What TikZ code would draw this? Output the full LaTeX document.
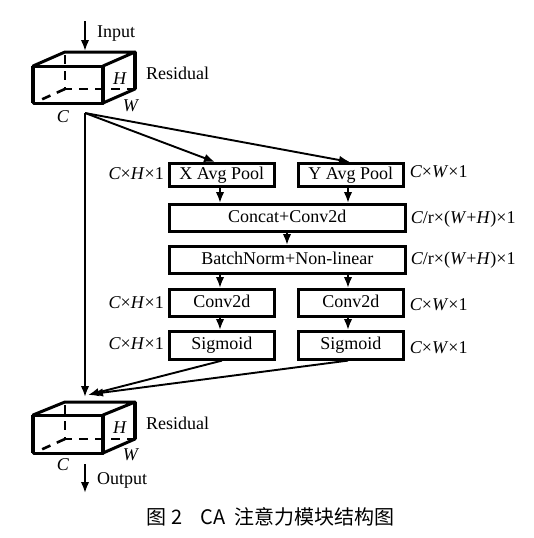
\documentclass[tikz,border=0pt]{standalone}
\usepackage{fontspec}
\setmainfont{Liberation Serif}
\newfontfamily\cjk{Noto Sans CJK SC}
\usetikzlibrary{arrows.meta}
\begin{document}
\begin{tikzpicture}[x=1pt,y=-1pt,
  every node/.style={font=\fontsize{18}{21}\selectfont, inner sep=0pt},
  blk/.style={draw, line width=2.6pt, anchor=north west, minimum height=#1, text height=12.5pt, text depth=4pt},
  edge/.style={line width=3pt, line cap=round, line join=round},
  hid/.style={line width=2.6pt, dash pattern=on 9pt off 7pt},
  arr/.style={line width=1.9pt, -{Latex[length=11pt,width=8.5pt]}},
  lab/.style={font=\fontsize{18}{21}\selectfont}]
\useasboundingbox (0,0) rectangle (533,538);
% ---- top cube
\draw[edge] (33,66) rectangle (103,103);
\draw[edge] (33,66) -- (65,52) -- (135,52) -- (103,66);
\draw[edge] (103,103) -- (135,89) -- (135,52);
\draw[line width=4pt] (33,66) -- (33,103) (103,66) -- (103,103) (135,52) -- (135,89);
\draw[hid] (65,55) -- (65,89) -- (133,89);
\draw[hid] (65,89) -- (36,102);
\node[lab] (tH) at (120,79) {\textit{H}};
\node[lab] (tW) at (131,106) {\textit{W}};
\node[lab] (tC) at (63,117) {\textit{C}};
\node[lab, anchor=west] (tRes) at (146,73) {Residual};
\coordinate (inS) at (85,21);
\coordinate (inE) at (85,51);
\draw[arr] (inS) -- (inE);
\node[lab, anchor=west] (tIn) at (97,34) {Input};
% ---- bottom cube
\draw[edge] (33,415) rectangle (103,453);
\draw[edge] (33,415) -- (65,402) -- (135,402) -- (103,415);
\draw[edge] (103,453) -- (135,439) -- (135,402);
\draw[line width=4pt] (33,415) -- (33,453) (103,415) -- (103,453) (135,402) -- (135,439);
\draw[hid] (65,405) -- (65,439) -- (133,439);
\draw[hid] (65,439) -- (36,452);
\node[lab] (bH) at (120,428) {\textit{H}};
\node[lab] (bW) at (131,455) {\textit{W}};
\node[lab] (bC) at (63,465) {\textit{C}};
\node[lab, anchor=west] (bRes) at (146,423) {Residual};
\coordinate (outS) at (85,464);
\coordinate (outE) at (85,493);
\draw[arr] (outS) -- (outE);
\node[lab, anchor=west] (tOut) at (97,480) {Output};
% ---- blocks
\node[blk=23pt, minimum width=105pt] (xp) at (168,162) {X Avg Pool};
\node[blk=23pt, minimum width=105pt] (yp) at (297,162) {Y Avg Pool};
\node[blk=27pt, minimum width=236pt] (cc) at (168,203) {Concat+Conv2d};
\node[blk=27pt, minimum width=236pt] (bn) at (168,245) {BatchNorm+Non-linear};
\node[blk=27pt, minimum width=105pt] (c1) at (168,288) {Conv2d};
\node[blk=27pt, minimum width=105pt] (c2) at (297,288) {Conv2d};
\node[blk=28pt, minimum width=105pt] (s1) at (168,330) {Sigmoid};
\node[blk=28pt, minimum width=105pt] (s2) at (297,330) {Sigmoid};
% ---- dimension labels
\node[lab, anchor=east] at ([xshift=-4pt,yshift=1pt]xp.west) {\textit{C}×\textit{H}×1};
\node[lab, anchor=west] at ([xshift=5pt,yshift=3pt]yp.east) {\textit{C}×\textit{W}×1};
\node[lab, anchor=west] at ([xshift=4pt,yshift=-1pt]cc.east) {\textit{C}/r×(\textit{W}+\textit{H})×1};
\node[lab, anchor=west] at ([xshift=4pt,yshift=0pt]bn.east) {\textit{C}/r×(\textit{W}+\textit{H})×1};
\node[lab, anchor=east] at ([xshift=-4pt,yshift=0pt]c1.west) {\textit{C}×\textit{H}×1};
\node[lab, anchor=west] at ([xshift=5pt,yshift=-2pt]c2.east) {\textit{C}×\textit{W}×1};
\node[lab, anchor=east] at ([xshift=-4pt,yshift=2pt]s1.west) {\textit{C}×\textit{H}×1};
\node[lab, anchor=west] at ([xshift=5pt,yshift=-2pt]s2.east) {\textit{C}×\textit{W}×1};
% ---- connectors
\coordinate (j) at (85,113);
\coordinate (k) at (85,397);
\draw[arr] (j) -- (k);
\draw[arr] (j) -- ([xshift=47pt]xp.north west);
\draw[arr] (j) -- ([xshift=53pt]yp.north west);
\draw[arr] ([xshift=52pt]xp.south west) -- ([xshift=52pt]cc.north west);
\draw[arr] ([xshift=51pt]yp.south west) -- ([xshift=180pt]cc.north west);
\draw[arr] ([xshift=119pt]cc.south west) -- ([xshift=119pt]bn.north west);
\draw[arr] ([xshift=52pt]bn.south west) -- ([xshift=52pt]c1.north west);
\draw[arr] ([xshift=180pt]bn.south west) -- ([xshift=51pt]c2.north west);
\draw[arr] ([xshift=52pt]c1.south west) -- ([xshift=52pt]s1.north west);
\draw[arr] ([xshift=51pt]c2.south west) -- ([xshift=51pt]s2.north west);
\draw[arr] ([xshift=54pt]s1.south west) -- (88,395);
\draw[arr] ([xshift=51pt]s2.south west) -- (92,394);
% ---- caption
\node[font=\cjk\fontsize{20}{24}\selectfont, anchor=west] (cap) at (146,517) {图\hspace{5pt}2\hspace{18pt}CA\hspace{9pt}注意力模块结构图};
\end{tikzpicture}
\end{document}
